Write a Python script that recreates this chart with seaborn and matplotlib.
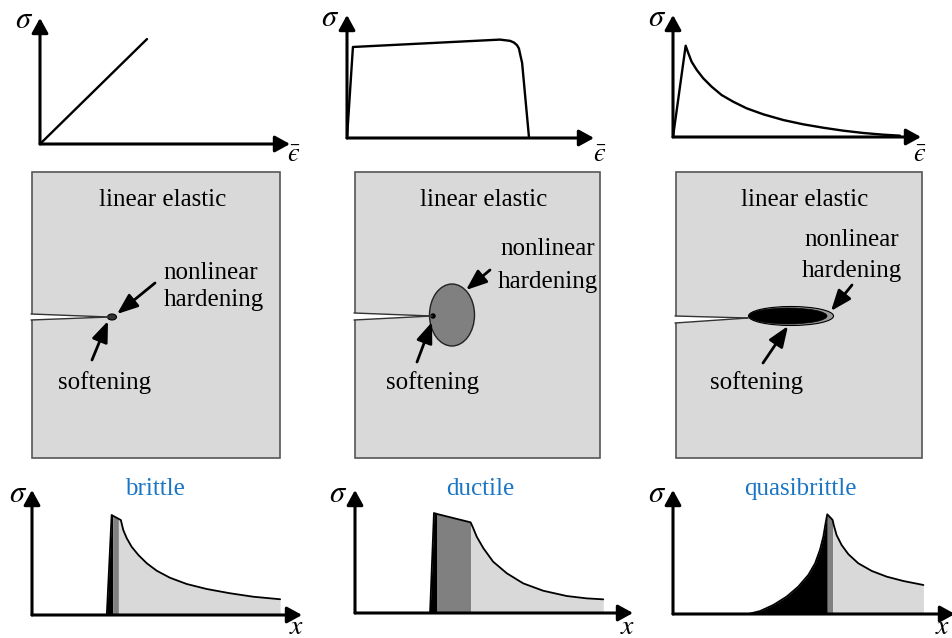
import numpy as np
import pandas as pd
import matplotlib
matplotlib.use("Agg")
import matplotlib.pyplot as plt
from matplotlib.patches import Rectangle, Ellipse, Polygon
import seaborn as sns

sns.set_theme(style="white")
plt.rcParams['font.family'] = ['Liberation Serif', 'DejaVu Serif']
plt.rcParams['mathtext.fontset'] = 'stix'
plt.rcParams['text.color'] = 'black'

# ---------------- data (normalised strain / stress, 0..1 of each axis) ------------
# top row: stress-strain laws
lin_eps = [0.0, 0.428]
lin_sig = [0.0, 0.833]

duc_eps = [0.0, 0.024, 0.619, 0.660, 0.676, 0.688, 0.696, 0.700, 0.709, 0.737]
duc_sig = [0.0, 0.740, 0.800, 0.790, 0.776, 0.755, 0.728, 0.690, 0.610, 0.0]

qb_eps = [0.0, 0.051, 0.062, 0.075, 0.096, 0.122, 0.156, 0.196, 0.243, 0.297, 0.364,
          0.445, 0.525, 0.606, 0.686, 0.767, 0.848, 0.915]
qb_sig = [0.0, 0.748, 0.686, 0.617, 0.549, 0.481, 0.412, 0.344, 0.289, 0.235, 0.186,
          0.139, 0.104, 0.076, 0.052, 0.033, 0.019, 0.011]

# bottom row: stress profiles ahead of the crack tip
# zones as index slices: [softening (black), hardening (dark grey), elastic (light grey)]
brit_x = [0.277, 0.295, 0.299, 0.320, 0.329, 0.338, 0.351, 0.369, 0.394, 0.425, 0.462,
          0.511, 0.573, 0.647, 0.733, 0.820, 0.919]
brit_s = [0.000, 0.800, 0.795, 0.770, 0.760, 0.680, 0.614, 0.546, 0.480, 0.414, 0.354,
          0.298, 0.248, 0.208, 0.174, 0.146, 0.126]
brit_zones = [(0, 2), (2, 3), (3, 16)]

duct_x = [0.270, 0.284, 0.295, 0.416, 0.425, 0.438, 0.462, 0.497, 0.546, 0.605, 0.677,
          0.762, 0.833, 0.893]
duct_s = [0.000, 0.813, 0.805, 0.737, 0.691, 0.620, 0.526, 0.417, 0.323, 0.241, 0.181,
          0.138, 0.119, 0.111]
duct_zones = [(0, 2), (2, 3), (3, 13)]

quas_x = [0.267, 0.309, 0.356, 0.403, 0.444, 0.480, 0.504, 0.521, 0.533, 0.541, 0.547,
          0.563, 0.566, 0.570, 0.580, 0.598, 0.622, 0.657, 0.705, 0.758, 0.817, 0.888]
quas_s = [0.000, 0.024, 0.073, 0.140, 0.220, 0.315, 0.409, 0.516, 0.623, 0.731, 0.804,
          0.766, 0.758, 0.718, 0.637, 0.556, 0.482, 0.409, 0.347, 0.301, 0.266, 0.234]
quas_zones = [(0, 10), (10, 12), (12, 21)]

titles = ["brittle", "ductile", "quasibrittle"]
box_label = "linear elastic"
hard_lines = ["nonlinear", "hardening"]
soft_label = "softening"

W, H = 952, 638
fig = plt.figure(figsize=(W / 100, H / 100), dpi=100)


def px_axes(left, bottom, width, height):
    """axes placed by pixel box (bottom measured from the top of the figure)."""
    ax = fig.add_axes([left / W, 1 - bottom / H, width / W, height / H])
    ax.set_xlim(0, 1)
    ax.set_ylim(0, 1)
    ax.axis('off')
    return ax


def axis_arrows(ax, lw=2.2):
    kw = dict(arrowstyle='-|>,head_length=0.6,head_width=0.33', lw=lw, color='black',
              mutation_scale=15, shrinkA=0, shrinkB=0)
    ax.annotate('', xy=(1, 0), xytext=(0, 0), xycoords='axes fraction',
                arrowprops=kw, annotation_clip=False)
    ax.annotate('', xy=(0, 1), xytext=(0, 0), xycoords='axes fraction',
                arrowprops=kw, annotation_clip=False)


SIG = r'$\sigma$'
EPS = '$\\bar{\u03f5}$'

# ---------------- top row ----------------
top_boxes = [(40, 144, 250, 126), (347, 138, 247, 123), (673, 137, 248, 122)]
top_curves = [(lin_eps, lin_sig), (duc_eps, duc_sig), (qb_eps, qb_sig)]
sig_pos = [(24, 21), (330, 19), (657, 19)]
eps_pos = [(294, 156), (600, 156), (920, 156)]
for (l, b, w, h), (xe, ys) in zip(top_boxes, top_curves):
    ax = px_axes(l, b, w, h)
    axis_arrows(ax)
    sns.lineplot(x=xe, y=ys, ax=ax, sort=False, color='black', lw=1.7, estimator=None)

# ---------------- bottom row ----------------
bot_boxes = [(32, 615, 270, 125), (355, 613, 278, 123), (673, 614, 282, 124)]
bot_data = [(brit_x, brit_s, brit_zones), (duct_x, duct_s, duct_zones),
            (quas_x, quas_s, quas_zones)]
zone_cols = ['black', '#808080', '#d9d9d9']
for (l, b, w, h), (xx, ss, zones) in zip(bot_boxes, bot_data):
    ax = px_axes(l, b, w, h)
    xx = np.array(xx)
    ss = np.array(ss)
    for (i0, i1), c in zip(zones, zone_cols):
        ax.fill_between(xx[i0:i1 + 1], 0, ss[i0:i1 + 1], color=c, lw=0)
    sns.lineplot(x=xx, y=ss, ax=ax, sort=False, color='black', lw=1.3, estimator=None)
    axis_arrows(ax)

# ---------------- overlay (pixel space) ----------------
ov = fig.add_axes([0, 0, 1, 1], zorder=5)
ov.set_xlim(0, W)
ov.set_ylim(H, 0)
ov.axis('off')
ov.patch.set_alpha(0)

for (x, y) in sig_pos:
    ov.text(x, y, SIG, fontsize=22, ha='center', va='center')
for (x, y) in eps_pos:
    ov.text(x, y, EPS, fontsize=19, ha='center', va='center')
for x, y in [(18, 494), (338, 494), (657, 494)]:
    ov.text(x, y, SIG, fontsize=22, ha='center', va='center')
for x, y in [(297, 627), (628, 627), (943, 627)]:
    ov.text(x, y, r'$x$', fontsize=20, ha='center', va='center')
for x, t in zip([155, 480, 800], titles):
    ov.text(x, 489, t, fontsize=18, ha='center', va='center', color='#1a75c4')

# gray boxes
boxes = [(32, 172, 248, 286), (355, 172, 245, 286), (676, 172, 246, 286)]
label_x = [163, 484, 805]
for (x, y, w, h), lx in zip(boxes, label_x):
    ov.add_patch(Rectangle((x, y), w, h, facecolor='#d9d9d9', edgecolor='#555555', lw=1.2))
    ov.text(lx, 200, box_label, fontsize=18, ha='center', va='center')

# cracks
cracks = [(32, 314, 320, 109, 317), (355, 313, 320, 432, 316), (676, 316, 323, 748, 318)]
for (x0, yt, yb, xt, ytip) in cracks:
    ov.add_patch(Polygon([(x0 - 2, yt), (xt, ytip), (x0 - 2, yb)], closed=True,
                         facecolor='white', edgecolor='none'))
    ov.plot([x0 - 1, xt], [yt, ytip], color='#333333', lw=1)
    ov.plot([x0 - 1, xt], [yb, ytip], color='#333333', lw=1)

# process zones
ov.add_patch(Ellipse((112, 317), 9, 6, facecolor='#333333', edgecolor='black', lw=0.8))
ov.add_patch(Ellipse((452, 315), 45, 62, facecolor='#808080', edgecolor='#222222', lw=1))
ov.add_patch(Ellipse((433, 316), 4, 4, facecolor='black', edgecolor='black'))
ov.add_patch(Ellipse((791, 316), 85, 19, facecolor='#9a9a9a', edgecolor='black', lw=0.8))
ov.add_patch(Ellipse((788, 316), 78, 16, facecolor='black', edgecolor='black', lw=0.5))

# labels
hard_pos = [((211, 273), (214, 300)), ((548, 249), (548, 282)), ((852, 240), (852, 271))]
soft_pos = [(105, 383), (433, 383), (757, 383)]
for (p1, p2) in hard_pos:
    ov.text(p1[0], p1[1], hard_lines[0], fontsize=18, ha='center', va='center')
    ov.text(p2[0], p2[1], hard_lines[1], fontsize=18, ha='center', va='center')
for (x, y) in soft_pos:
    ov.text(x, y, soft_label, fontsize=18, ha='center', va='center')

arr = dict(arrowstyle='-|>,head_length=0.9,head_width=0.35', lw=2, color='black',
           mutation_scale=14, shrinkA=0, shrinkB=0)
hard_arrows = [((155, 283), (117, 314)), ((490, 270), (466, 290)), ((852, 285), (831, 311))]
soft_arrows = [((92, 360), (108, 321)), ((417, 362), (432, 322)), ((763, 363), (788, 326))]
for (tail, tip) in hard_arrows + soft_arrows:
    ov.annotate('', xy=tip, xytext=tail, arrowprops=arr)

fig.savefig('out.png', dpi=100)
